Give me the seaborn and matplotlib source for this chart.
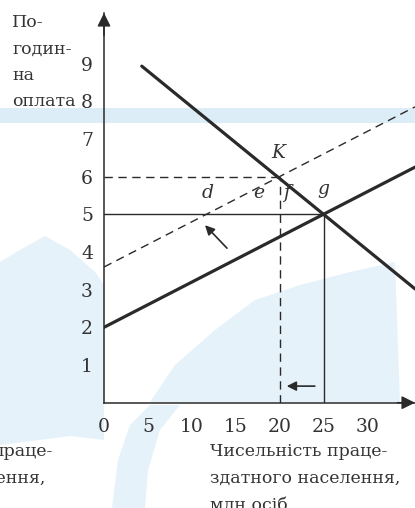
import matplotlib
matplotlib.use("Agg")
import matplotlib.pyplot as plt
from matplotlib.patches import Polygon, Rectangle
import pandas as pd
import seaborn as sns

# Labour market: hourly wage versus working-age population (millions)
x_ticks = [0, 5, 10, 15, 20, 25, 30]
y_ticks = [1, 2, 3, 4, 5, 6, 7, 8, 9]
x_max, y_max = 35.4, 10.34

# demand curve (falling), original supply and shifted supply (dashed)
demand_x = [4.3, 35.4]
demand_y = [8.93, 3.02]
supply_x = [0, 35.4]
supply_y = [2.0, 6.25]
supply_new_x = [0, 35.4]
supply_new_y = [3.6, 7.85]

# equilibrium points
point_k = (20, 6)   # K
point_g = (25, 5)   # g

point_labels = ["K", "g", "d", "e", "f"]
label_pos = [(19.8, 6.5), (25.0, 5.55), (11.8, 5.42), (17.6, 5.42), (20.75, 5.42)]

y_title = "По-\nгодин-\nна\nоплата"
x_title = "Чисельність праце-\nздатного населення,\nмлн осіб"

W, H = 415, 508
sns.set_theme(style="white")
plt.rcParams["font.family"] = ["DejaVu Serif", "Liberation Serif"]

ink = "#2a2a2a"
txt = "#333333"
fs = 12.5
fig = plt.figure(figsize=(W / 100, H / 100), dpi=100)
fig.patch.set_facecolor("white")


def px(x, y):
    """pixel position -> figure fraction"""
    return x / W, 1 - y / H


# faint page background tint
band = "#dcedf7"
tint = "#e6f2fa"
fig.patches.append(Rectangle(px(0, 123), 1, 15 / H, transform=fig.transFigure,
                             facecolor=band, edgecolor="none", zorder=-5))
left_blob = [(0, 262), (20, 250), (45, 236), (70, 250), (95, 272), (104, 285),
             (104, 440), (70, 436), (40, 440), (0, 445)]
mid_blob = [(150, 402), (175, 365), (215, 330), (255, 300), (300, 285),
            (350, 272), (395, 262), (400, 402)]
low_band = [(112, 508), (118, 460), (130, 425), (150, 405), (180, 405),
            (160, 430), (148, 470), (145, 508)]
for poly in (left_blob, mid_blob, low_band):
    fig.patches.append(Polygon([px(a, b) for a, b in poly], closed=True,
                               transform=fig.transFigure, facecolor=tint,
                               edgecolor="none", zorder=-5))

ax = fig.add_axes([104 / W, (H - 402.7) / H, (W - 104) / W, (402.7 - 13) / H])
ax.set_facecolor("none")
ax.set_zorder(2)
ax.set_xlim(0, x_max)
ax.set_ylim(0, y_max)

lines = pd.DataFrame({
    "x": demand_x + supply_x + supply_new_x,
    "y": demand_y + supply_y + supply_new_y,
    "curve": ["D"] * 2 + ["S"] * 2 + ["S2"] * 2,
})
sns.lineplot(data=lines[lines.curve == "D"], x="x", y="y", ax=ax,
             color=ink, lw=2.3, legend=False)
sns.lineplot(data=lines[lines.curve == "S"], x="x", y="y", ax=ax,
             color=ink, lw=2.3, legend=False)
sns.lineplot(data=lines[lines.curve == "S2"], x="x", y="y", ax=ax,
             color=ink, lw=1.0, legend=False, dashes=False, linestyle=(0, (6, 4)))

# guide lines to the axes
kx, ky = point_k
gx, gy = point_g
ax.plot([0, gx], [gy, gy], color=ink, lw=1.0)
ax.plot([gx, gx], [0, gy], color=ink, lw=1.0)
ax.plot([0, kx], [ky, ky], color=ink, lw=1.0, linestyle=(0, (6, 4)))
ax.plot([kx, kx], [0, ky], color=ink, lw=1.0, linestyle=(0, (6, 4)))

for text, (lx, ly) in zip(point_labels, label_pos):
    ax.text(lx, ly, text, fontsize=13.5, style="italic", color=txt,
            ha="center", va="baseline")

# shift arrows
ax.annotate("", xy=(11.5, 4.71), xytext=(14.0, 4.1),
            arrowprops=dict(arrowstyle="-|>", color=ink, lw=1.2,
                            mutation_scale=14, shrinkA=0, shrinkB=0))
ax.annotate("", xy=(20.8, 0.44), xytext=(24.0, 0.44),
            arrowprops=dict(arrowstyle="-|>", color=ink, lw=1.2,
                            mutation_scale=14, shrinkA=0, shrinkB=0))

# axes with arrow heads
for s in ("top", "right"):
    ax.spines[s].set_visible(False)
for s in ("left", "bottom"):
    ax.spines[s].set_color(ink)
    ax.spines[s].set_linewidth(1.1)
ax.annotate("", xy=(0, y_max), xytext=(0, y_max - 0.6),
            arrowprops=dict(arrowstyle="-|>", color=ink, lw=1.1,
                            mutation_scale=20, shrinkA=0, shrinkB=0),
            annotation_clip=False)
ax.annotate("", xy=(x_max, 0), xytext=(x_max - 2.0, 0),
            arrowprops=dict(arrowstyle="-|>", color=ink, lw=1.1,
                            mutation_scale=20, shrinkA=0, shrinkB=0),
            annotation_clip=False)

ax.set_xticks(x_ticks)
ax.set_xticklabels([str(v) for v in x_ticks])
ax.set_yticks(y_ticks)
ax.set_yticklabels([str(v) for v in y_ticks])
ax.tick_params(direction="in", length=4, width=1.0, color=ink,
               labelcolor=txt, labelsize=13.5)
ax.tick_params(axis="x", pad=11)
ax.tick_params(axis="y", pad=8)
ax.set_xlabel("")
ax.set_ylabel("")
ax.grid(False)

fig.text(*px(12, 14), y_title, fontsize=fs, color=txt, ha="left", va="top",
         linespacing=1.72)
fig.text(*px(210, 443), x_title, fontsize=fs, color=txt, ha="left", va="top",
         linespacing=1.75)
# neighbouring caption running in from the left margin
fig.text(*px(53, 443), "праце-", fontsize=fs, color=txt, ha="right", va="top")
fig.text(*px(45, 470), "здатного населення,", fontsize=fs, color=txt,
         ha="right", va="top")

fig.savefig("out.png", dpi=100)
